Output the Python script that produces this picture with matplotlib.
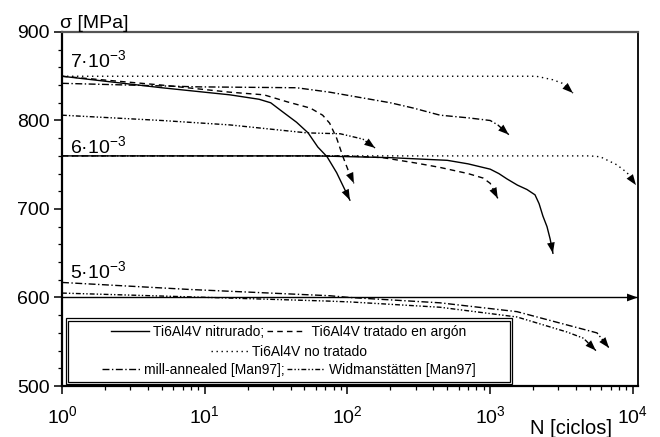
import matplotlib
matplotlib.use('Agg')
import matplotlib.pyplot as plt
from matplotlib.patches import Rectangle
from matplotlib.lines import Line2D
from matplotlib.legend import Legend
from matplotlib.ticker import MultipleLocator, NullFormatter

plt.rcParams['font.family'] = ['Liberation Sans', 'DejaVu Sans']
plt.rcParams['mathtext.fontset'] = 'custom'
plt.rcParams['mathtext.rm'] = 'Liberation Sans'
plt.rcParams['mathtext.it'] = 'Liberation Sans:italic'
plt.rcParams['mathtext.bf'] = 'Liberation Sans:bold'
plt.rcParams['lines.scale_dashes'] = False

# --- nivel 7e-3 ---
N_nit_7 = [1, 5, 15, 24, 29, 35, 44, 53, 62, 72, 84, 104]
s_nit_7 = [850, 837, 829, 824, 820, 810, 798, 786, 770, 759, 741, 710]
N_arg_7 = [1, 5, 15, 26, 38, 55, 67, 75, 84, 93, 101, 111]
s_arg_7 = [850, 840, 832, 829, 821, 814, 806, 797, 780, 759, 744, 729]
N_not_7 = [1, 2100, 2750, 3200, 3800]
s_not_7 = [850, 850, 846, 842, 831]
N_mill_7 = [1, 9, 44, 75, 200, 290, 445, 700, 1000, 1130, 1350]
s_mill_7 = [842, 838, 837, 832, 820, 814, 806, 803, 800, 795, 784]
N_wid_7 = [1, 5, 15, 52, 89, 128, 156]
s_wid_7 = [806, 800, 795, 786, 785, 779, 769]

# --- nivel 6e-3 ---
N_nit_6 = [1, 60, 200, 500, 700, 1000, 1150, 1310, 1550, 1810, 2060, 2200,
           2340, 2500, 2630, 2750]
s_nit_6 = [760, 760, 758, 755, 751, 745, 740, 734, 727, 722, 716, 706,
           692, 680, 666, 650]
N_arg_6 = [1, 100, 177, 300, 444, 700, 890, 1000, 1130]
s_arg_6 = [760, 760, 758, 752, 747, 740, 735, 729, 712]
N_not_6 = [1, 5000, 5900, 7700, 9100, 10500]
s_not_6 = [760, 760, 759, 750, 741, 727]

# --- nivel 5e-3 ---
N_nit_5 = [1, 10800]
s_nit_5 = [600, 600]
N_mill_5 = [1, 8, 75, 104, 444, 1540, 3450, 5600, 6800]
s_mill_5 = [617, 609, 602, 600, 594, 584, 569, 560, 543]
N_wid_5 = [1, 11, 72, 104, 444, 1540, 3450, 4500, 5500]
s_wid_5 = [605, 600, 596, 595, 589, 578, 561, 554, 540]

niveles = ['7·10^{-3}', '6·10^{-3}', '5·10^{-3}']
niveles_s = [860, 763, 622]
xticks = [1, 10, 100, 1000, 10000]
xticklabels = [r'$\mathregular{10^{%d}}$' % k for k in range(5)]

# estilos de linea (puntos)
ls_nit = '-'
ls_arg = (0, (4, 3))
ls_not = (0, (1, 2.6))
ls_mill = (0, (5, 1.8, 1, 1.8))
ls_wid = (0, (3.5, 1.5, 1, 1.5, 1, 1.5))

fig = plt.figure(figsize=(6.6, 4.37), dpi=100)
ax = fig.add_axes([0.0939, 0.1167, 0.8727, 0.8101])


def curva(N, s, ls):
    ax.plot(N, s, color='k', lw=1.0, linestyle=ls)
    # punta de flecha al final de la curva
    ax.annotate('', xy=(N[-1], s[-1]), xytext=(N[-2], s[-2]),
                arrowprops=dict(arrowstyle='-|>,head_length=0.55,head_width=0.2',
                                mutation_scale=14, lw=0, color='k',
                                shrinkA=0, shrinkB=0),
                annotation_clip=False)


curva(N_not_7, s_not_7, ls_not)
curva(N_mill_7, s_mill_7, ls_mill)
curva(N_wid_7, s_wid_7, ls_wid)
curva(N_arg_7, s_arg_7, ls_arg)
curva(N_nit_7, s_nit_7, ls_nit)
curva(N_not_6, s_not_6, ls_not)
curva(N_arg_6, s_arg_6, ls_arg)
curva(N_nit_6, s_nit_6, ls_nit)
curva(N_mill_5, s_mill_5, ls_mill)
curva(N_wid_5, s_wid_5, ls_wid)
curva(N_nit_5, s_nit_5, ls_nit)

for txt, s in zip(niveles, niveles_s):
    ax.text(1.13, s, r'$\mathregular{%s}$' % txt, fontsize=14, va='baseline')

ax.set_xscale('log')
ax.set_xlim(1, 10840)
ax.set_ylim(500, 900)
ax.set_xticks(xticks)
ax.set_xticklabels(xticklabels)
ax.xaxis.set_minor_formatter(NullFormatter())
ax.yaxis.set_major_locator(MultipleLocator(100))
ax.yaxis.set_minor_locator(MultipleLocator(20))
ax.tick_params(which='major', direction='out', length=6, width=1.1,
               labelsize=14, top=False, right=False)
ax.tick_params(axis='x', which='major', pad=8)
ax.tick_params(axis='y', which='major', pad=3)
ax.tick_params(which='minor', direction='out', length=3, width=0.9,
               top=False, right=False)

for lado in ['left', 'bottom']:
    ax.spines[lado].set_linewidth(1.6)
ax.spines['top'].set_linewidth(1.6)
ax.spines['top'].set_color('#555555')
ax.spines['right'].set_linewidth(1.3)

ax.text(-0.003, 1.011, 'σ [MPa]', transform=ax.transAxes, fontsize=14,
        va='baseline', ha='left')
ax.text(0.955, -0.136, 'N [ciclos]', transform=ax.transAxes, fontsize=14.5,
        va='baseline', ha='right')

# marco doble de la leyenda
ax.add_patch(Rectangle((0.0069, 0.007), 0.7741, 0.1837, transform=ax.transAxes,
                       fill=False, lw=0.9, ec='k', zorder=4))
ax.add_patch(Rectangle((0.0113, 0.0127), 0.7665, 0.1709, transform=ax.transAxes,
                       fill=False, lw=0.9, ec='k', zorder=4))


def h(ls):
    return Line2D([], [], color='k', lw=1.0, linestyle=ls)


filas = [
    ([h(ls_nit), h(ls_arg)], ['Ti6Al4V nitrurado;', ' Ti6Al4V tratado en argón'], 0.1525),
    ([h(ls_not)], ['Ti6Al4V no tratado'], 0.096),
    ([h(ls_mill), h(ls_wid)], ['mill-annealed [Man97];', 'Widmanstätten [Man97]'], 0.045),
]
for handles, labels, yf in filas:
    leg = Legend(ax, handles, labels, ncol=len(handles), loc='center',
                 bbox_to_anchor=(0.394, yf), bbox_transform=ax.transAxes,
                 frameon=False, fontsize=10, handlelength=2.7,
                 handletextpad=0.3, columnspacing=0.2,
                 borderpad=0, borderaxespad=0)
    ax.add_artist(leg)

fig.savefig('out.png', dpi=100)
